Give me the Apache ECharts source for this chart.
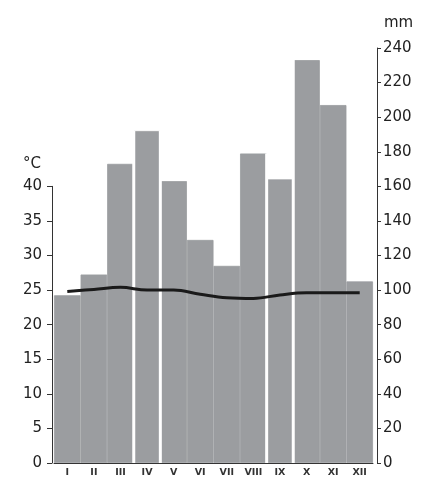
<!DOCTYPE html>
<html>
<head>
<meta charset="utf-8">
<script src="https://cdn.jsdelivr.net/npm/echarts@6/dist/echarts.min.js"></script>
<style>
  html, body { margin: 0; padding: 0; background: #fff; }
  #chart { width: 428px; height: 479px; }
</style>
</head>
<body>
<div id="chart"></div>
<script>
// Monthly climate data
const months = ['I', 'II', 'III', 'IV', 'V', 'VI', 'VII', 'VIII', 'IX', 'X', 'XI', 'XII'];
const precipitation = [97, 109, 173, 192, 163, 129, 114, 179, 164, 233, 207, 105]; // mm
const temperature = [24.8, 25.1, 25.4, 25.0, 25.0, 24.4, 23.9, 23.8, 24.3, 24.6, 24.6, 24.6]; // °C
// Months whose bars are set apart by white separators
const separatedMonths = ['IV', 'IX'];

(function () {
  const font = 'DejaVu Sans';
  const ink = '#222';
  const barColor = '#9b9da0';

  // Plot area: shared left/right/bottom; the temperature grid spans 0–40 °C,
  // which lines up with 0–160 mm on the precipitation scale (1 °C = 4 mm).
  const gLeft = 54, gRight = 55, gTop = 48, gBottom = 16;
  const plotH = 479 - gTop - gBottom;
  const mmMax = 240, tempMax = 40, mmPerDeg = 4;
  const tempTop = gTop + (mmMax - tempMax * mmPerDeg) / mmMax * plotH;

  // Month boundaries 0..12; a white separator stands on both sides of each
  // separated month, as tall as the taller of its two neighbouring bars.
  const boundaries = months.map((m, i) => 'b' + i).concat(['b' + months.length]);
  const sepData = boundaries.map((b, i) => {
    const leftMonth = months[i - 1], rightMonth = months[i];
    const flagged = separatedMonths.includes(leftMonth) || separatedMonths.includes(rightMonth);
    if (!flagged || i === 0 || i === months.length) return '-';
    return Math.max(precipitation[i - 1], precipitation[i]);
  });

  const chart = echarts.init(document.getElementById('chart'));
  chart.setOption({
    animation: false,
    backgroundColor: '#fff',
    grid: [
      { left: gLeft, right: gRight, top: gTop, bottom: gBottom },
      { left: gLeft, right: gRight, top: tempTop, bottom: gBottom }
    ],
    xAxis: [
      {
        type: 'category', gridIndex: 0, data: months, z: 10,
        axisLine: { show: true, lineStyle: { color: '#333', width: 1 } },
        axisTick: { show: false },
        axisLabel: { color: '#333', fontFamily: font, fontSize: 9.5, fontWeight: 'bold', margin: 5 }
      },
      {
        type: 'category', gridIndex: 1, data: months, show: false
      },
      {
        type: 'category', gridIndex: 0, data: boundaries, boundaryGap: false, show: false
      }
    ],
    yAxis: [
      {
        type: 'value', gridIndex: 1, position: 'left', offset: 2,
        min: 0, max: tempMax, interval: 5,
        name: '°C', nameLocation: 'end', nameGap: 15,
        nameTextStyle: { color: ink, fontFamily: font, fontSize: 15, align: 'right', padding: [0, 11, 0, 0] },
        axisLine: { show: true, lineStyle: { color: '#333', width: 1 } },
        axisTick: { show: true, length: 5, lineStyle: { color: '#333' } },
        axisLabel: { color: ink, fontFamily: font, fontSize: 15, margin: 10 },
        splitLine: { show: false }
      },
      {
        type: 'value', gridIndex: 0, position: 'right', offset: 4,
        min: 0, max: mmMax, interval: 20,
        name: 'mm', nameLocation: 'end', nameGap: 17,
        nameTextStyle: { color: ink, fontFamily: font, fontSize: 15, align: 'left', padding: [0, 0, 0, 7] },
        axisLine: { show: true, lineStyle: { color: '#333', width: 1 } },
        axisTick: { show: true, length: 4, lineStyle: { color: '#333' } },
        axisLabel: { color: ink, fontFamily: font, fontSize: 15, margin: 6 },
        splitLine: { show: false }
      }
    ],
    series: [
      {
        name: 'Precipitation', type: 'bar', xAxisIndex: 0, yAxisIndex: 1,
        data: precipitation, barCategoryGap: '0%',
        itemStyle: { color: barColor, borderColor: barColor, borderWidth: 0.8 }
      },
      {
        name: 'Separators', type: 'bar', xAxisIndex: 2, yAxisIndex: 1,
        data: sepData, barWidth: 3, z: 3,
        itemStyle: { color: '#fff' }
      },
      {
        name: 'Temperature', type: 'line', xAxisIndex: 1, yAxisIndex: 0,
        data: temperature, smooth: 0.4, symbol: 'none', z: 5,
        lineStyle: { color: '#1a1a1a', width: 3 }
      }
    ]
  });
})();
</script>
</body>
</html>
